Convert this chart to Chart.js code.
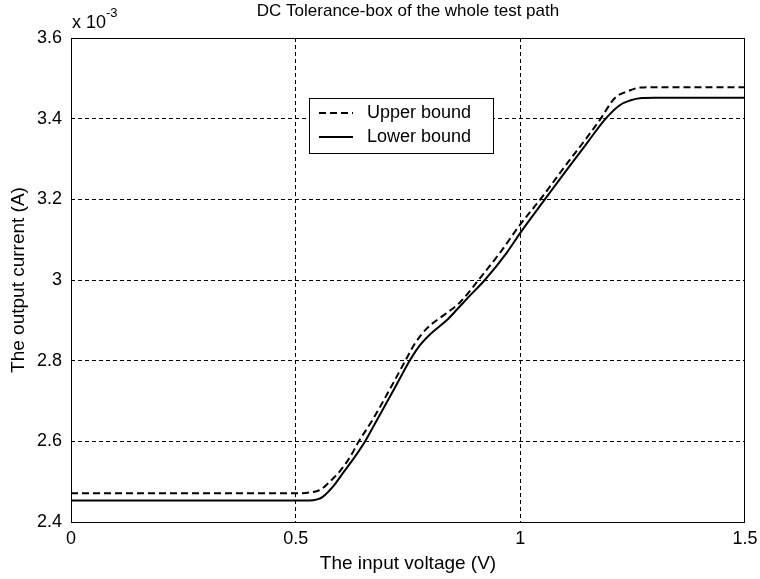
<!DOCTYPE html>
<html>
<head>
<meta charset="utf-8">
<script src="https://cdn.jsdelivr.net/npm/chart.js@4/dist/chart.umd.min.js"></script>
<style>
  html, body { margin: 0; padding: 0; background: #fff; }
  #wrap { width: 760px; height: 579px; }
</style>
</head>
<body>
<div id="wrap"><canvas id="c" width="760" height="579"></canvas></div>
<script>
// ---- Data (y values in units of 1e-3 A) ----
const titleText = 'DC Tolerance-box of the whole test path';
const xAxisLabel = 'The input voltage (V)';
const yAxisLabel = 'The output current (A)';
const seriesNames = ['Upper bound', 'Lower bound'];

const upperX = [0, 0.50, 0.53, 0.555, 0.576, 0.599, 0.621, 0.639, 0.672, 0.710, 0.747, 0.765, 0.792, 0.836, 0.866, 0.907, 0.955, 1.0, 1.05, 1.10, 1.15, 1.177, 1.211, 1.237, 1.266, 1.30, 1.5];
const upperY = [2.471, 2.471, 2.473, 2.480, 2.500, 2.527, 2.561, 2.597, 2.655, 2.730, 2.806, 2.842, 2.880, 2.918, 2.945, 3.0, 3.068, 3.138, 3.208, 3.283, 3.356, 3.397, 3.452, 3.467, 3.477, 3.478, 3.478];

const lowerX = [0, 0.53, 0.548, 0.561, 0.583, 0.605, 0.632, 0.654, 0.681, 0.718, 0.755, 0.775, 0.80, 0.836, 0.86, 0.885, 0.921, 0.97, 1.0, 1.05, 1.10, 1.15, 1.189, 1.222, 1.244, 1.270, 1.30, 1.5];
const lowerY = [2.453, 2.453, 2.456, 2.463, 2.4875, 2.521, 2.562, 2.599, 2.653, 2.727, 2.802, 2.836, 2.866, 2.900, 2.928, 2.958, 3.0, 3.068, 3.117, 3.193, 3.268, 3.342, 3.399, 3.434, 3.445, 3.451, 3.452, 3.452];

const xTickValues = [0, 0.5, 1, 1.5];
const xTickLabels = ['0', '0.5', '1', '1.5'];
const yTickValues = [2.4, 2.6, 2.8, 3.0, 3.2, 3.4, 3.6];
const yTickLabels = ['2.4', '2.6', '2.8', '3', '3.2', '3.4', '3.6'];
const yExponentBase = 'x 10';
const yExponent = '-3';

const FONT = '"Liberation Sans", Arial, Helvetica, sans-serif';

const toPoints = (xs, ys) => xs.map((x, i) => ({ x: x, y: ys[i] }));
const innerGridColor = (n) => (c) => (c.index === 0 || c.index === n - 1) ? 'rgba(0,0,0,0)' : '#000';

const boxPlugin = {
  id: 'boxAndExtras',
  afterDraw(chart) {
    const { ctx, chartArea: a } = chart;
    ctx.save();
    // axes box
    ctx.strokeStyle = '#000';
    ctx.lineWidth = 1;
    ctx.setLineDash([]);
    ctx.strokeRect(Math.round(a.left) + 0.5, Math.round(a.top) + 0.5,
                   Math.round(a.right - a.left) - 1, Math.round(a.bottom - a.top));
    // exponent label
    ctx.fillStyle = '#000';
    ctx.textBaseline = 'alphabetic';
    ctx.textAlign = 'left';
    ctx.font = '18px ' + FONT;
    ctx.fillText(yExponentBase, a.left + 1, a.top - 10);
    const w = ctx.measureText(yExponentBase).width;
    ctx.font = '13px ' + FONT;
    ctx.fillText(yExponent, a.left + 1 + w, a.top - 21);

    // legend
    const lx = a.left + 238, ly = a.top + 60, lw = 184, lh = 55;
    ctx.fillStyle = '#fff';
    ctx.fillRect(lx, ly, lw, lh);
    ctx.strokeStyle = '#000';
    ctx.lineWidth = 1;
    ctx.strokeRect(lx + 0.5, ly + 0.5, lw, lh);
    const ds = chart.data.datasets;
    ds.forEach((d, i) => {
      const yy = ly + 15 + i * 24;
      ctx.beginPath();
      ctx.lineWidth = 2;
      ctx.setLineDash(d.borderDash || []);
      ctx.moveTo(lx + 10, yy);
      ctx.lineTo(lx + 44, yy);
      ctx.stroke();
      ctx.setLineDash([]);
      ctx.fillStyle = '#000';
      ctx.font = '18px ' + FONT;
      ctx.textBaseline = 'middle';
      ctx.fillText(d.label, lx + 58, yy);
    });
    ctx.restore();
  }
};

new Chart(document.getElementById('c'), {
  type: 'line',
  data: {
    datasets: [
      {
        label: seriesNames[0],
        data: toPoints(upperX, upperY),
        borderColor: '#000',
        borderWidth: 2,
        borderDash: [7, 4],
        pointRadius: 0,
        fill: false,
        cubicInterpolationMode: 'monotone'
      },
      {
        label: seriesNames[1],
        data: toPoints(lowerX, lowerY),
        borderColor: '#000',
        borderWidth: 2,
        pointRadius: 0,
        fill: false,
        cubicInterpolationMode: 'monotone'
      }
    ]
  },
  options: {
    responsive: false,
    animation: false,
    devicePixelRatio: 1,
    layout: { padding: { top: 0, left: 0, right: 15, bottom: 0 } },
    plugins: {
      legend: { display: false },
      tooltip: { enabled: false },
      title: {
        display: true,
        text: titleText,
        fullSize: false,
        color: '#000',
        font: { family: FONT, size: 17, weight: 'normal' },
        padding: { top: 1, bottom: 16.6 }
      }
    },
    scales: {
      x: {
        type: 'linear',
        min: 0,
        max: 1.5,
        afterBuildTicks: s => { s.ticks = xTickValues.map(v => ({ value: v })); },
        afterFit: s => { s.height = 57; s.paddingRight = 0; s.paddingLeft = 0; },
        ticks: {
          color: '#000',
          font: { family: FONT, size: 18 },
          padding: 6,
          maxRotation: 0,
          autoSkip: false,
          callback: (v, i) => xTickLabels[i]
        },
        grid: { color: innerGridColor(xTickValues.length), lineWidth: 1, drawTicks: false },
        border: { display: false, dash: [4, 3] },
        title: {
          display: true,
          text: xAxisLabel,
          color: '#000',
          font: { family: FONT, size: 19 },
          padding: { top: 0, bottom: 4 }
        }
      },
      y: {
        type: 'linear',
        min: 2.4,
        max: 3.6,
        afterBuildTicks: s => { s.ticks = yTickValues.map(v => ({ value: v })); },
        afterFit: s => { s.width = 71; },
        ticks: {
          color: '#000',
          font: { family: FONT, size: 18 },
          padding: 9,
          autoSkip: false,
          callback: (v, i) => yTickLabels[i]
        },
        grid: { color: innerGridColor(yTickValues.length), lineWidth: 1, drawTicks: false },
        border: { display: false, dash: [4, 3] },
        title: {
          display: true,
          text: yAxisLabel,
          color: '#000',
          font: { family: FONT, size: 19 },
          padding: { top: 7, bottom: 0 }
        }
      }
    }
  },
  plugins: [boxPlugin]
});
</script>
</body>
</html>
